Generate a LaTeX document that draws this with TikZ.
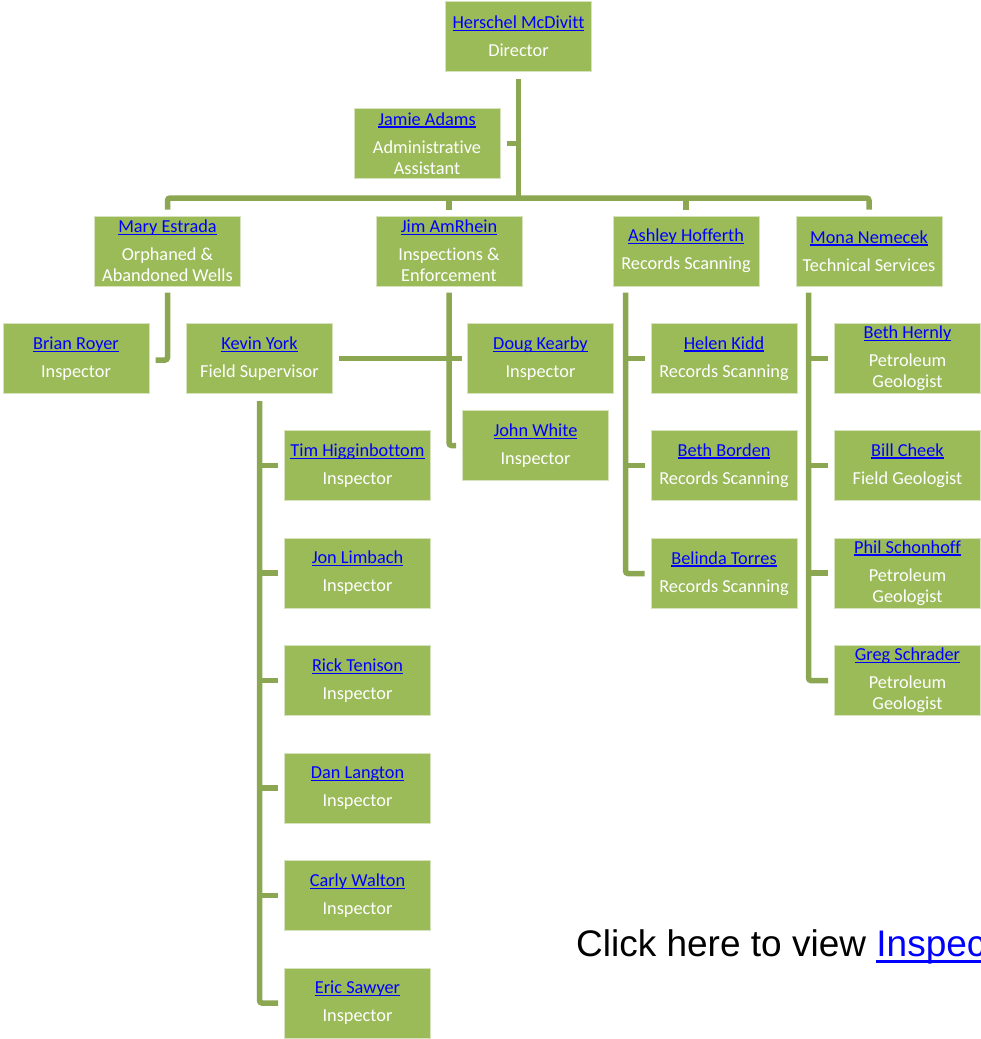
\documentclass[tikz,border=0pt]{standalone}
\usepackage{fontspec}
\setmainfont{Carlito}[Ligatures=NoCommon]
\newfontfamily\arialfont{Liberation Sans}
\definecolor{boxfill}{RGB}{155,187,89}
\definecolor{boxline}{RGB}{214,227,188}
\definecolor{conncol}{RGB}{140,167,82}
\definecolor{linkblue}{RGB}{0,0,255}
\newcommand\lnk[1]{{\color{linkblue}\setbox0=\hbox{#1}\rlap{\rule[-2.6pt]{\wd0}{1.4pt}}\box0}}
\newcommand\lnkbig[1]{{\color{linkblue}\setbox0=\hbox{#1}\rlap{\rule[-6.5pt]{\wd0}{2.6pt}}\box0}}
\begin{document}
\begin{tikzpicture}[x=1pt,y=-1pt,
  orgbox/.style={draw=boxline, line width=1pt, fill=boxfill, minimum width=146pt,
    minimum height=70pt, inner sep=0pt, align=center, text=white,
    font=\fontsize{18.3}{21}\selectfont},
  conn/.style={draw=conncol, line width=5.5pt, rounded corners=2.5pt}]
\useasboundingbox (0,0) rectangle (981,1039);
\clip (0,0) rectangle (981,1039);

% nodes
\node[orgbox] (dir) at (518.5,36.5) {\lnk{Herschel McDivitt}\\[7pt]Director};
\node[orgbox] (jamie) at (427,143.5) {\lnk{Jamie Adams}\\[7pt]Administrative\\Assistant};
\node[orgbox] (mary) at (167.5,251) {\lnk{Mary Estrada}\\[7pt]Orphaned \&\\Abandoned Wells};
\node[orgbox] (jim) at (449,251) {\lnk{Jim AmRhein}\\[7pt]Inspections \&\\Enforcement};
\node[orgbox] (ashley) at (686,251) {\lnk{Ashley Hofferth}\\[7pt]Records Scanning};
\node[orgbox] (mona) at (869,251) {\lnk{Mona Nemecek}\\[7pt]Technical Services};

\node[orgbox] (brian) at (76,358.5) {\lnk{Brian Royer}\\[7pt]Inspector};
\node[orgbox] (kevin) at (259.5,358.5) {\lnk{Kevin York}\\[7pt]Field Supervisor};
\node[orgbox] (doug) at (540.5,358.5) {\lnk{Doug Kearby}\\[7pt]Inspector};
\node[orgbox] (john) at (535.5,445.5) {\lnk{John White}\\[7pt]Inspector};

\node[orgbox] (helen) at (724,358.5) {\lnk{Helen Kidd}\\[7pt]Records Scanning};
\node[orgbox] (bethb) at (724,465.5) {\lnk{Beth Borden}\\[7pt]Records Scanning};
\node[orgbox] (belinda) at (724,573.5) {\lnk{Belinda Torres}\\[7pt]Records Scanning};

\node[orgbox] (bethh) at (907.5,358.5) {\lnk{Beth Hernly}\\[7pt]Petroleum\\Geologist};
\node[orgbox] (bill) at (907.5,465.5) {\lnk{Bill Cheek}\\[7pt]Field Geologist};
\node[orgbox] (phil) at (907.5,573) {\lnk{Phil Schonhoff}\\[7pt]Petroleum\\Geologist};
\node[orgbox] (greg) at (907.5,680.5) {\lnk{Greg Schrader}\\[7pt]Petroleum\\Geologist};

\node[orgbox] (tim) at (357.5,465.5) {\lnk{Tim Higginbottom}\\[7pt]Inspector};
\node[orgbox] (jon) at (357.5,573) {\lnk{Jon Limbach}\\[7pt]Inspector};
\node[orgbox] (rick) at (357.5,680.5) {\lnk{Rick Tenison}\\[7pt]Inspector};
\node[orgbox] (dan) at (357.5,788) {\lnk{Dan Langton}\\[7pt]Inspector};
\node[orgbox] (carly) at (357.5,895.5) {\lnk{Carly Walton}\\[7pt]Inspector};
\node[orgbox] (eric) at (357.5,1003) {\lnk{Eric Sawyer}\\[7pt]Inspector};

% connectors
\coordinate (bar) at (519,198);
\draw[conn] ([yshift=-7pt]dir.south) -- (dir.south |- bar);
\draw[conn] ([xshift=6pt]jamie.east) -- (jamie.east -| dir.south);
\draw[conn] ([yshift=6pt]mary.north) |- (bar) -| ([yshift=6pt]mona.north);
\draw[conn] ([yshift=6pt]jim.north) -- (jim.north |- bar);
\draw[conn] ([yshift=6pt]ashley.north) -- (ashley.north |- bar);

\draw[conn] ([yshift=-6pt]mary.south) |- ([xshift=6pt,yshift=-1.5pt]brian.east);
\draw[conn] ([yshift=-6pt]jim.south) |- ([xshift=-6pt]john.west);
\draw[conn] ([xshift=6pt]kevin.east) -- ([xshift=-5pt]doug.west);

\draw[conn] ([yshift=-7pt]kevin.south) |- ([xshift=-6pt]eric.west);
\foreach \t in {tim,jon,rick,dan,carly}
  \draw[conn] (kevin.south |- \t.west) -- ([xshift=-6pt]\t.west);

\coordinate (av) at ([xshift=13pt]ashley.south west);
\draw[conn] ([yshift=-6pt]av) |- ([xshift=-6pt]belinda.west);
\foreach \t in {helen,bethb}
  \draw[conn] (av |- \t.west) -- ([xshift=-6pt]\t.west);

\coordinate (mv) at ([xshift=13pt]mona.south west);
\draw[conn] ([yshift=-6pt]mv) |- ([xshift=-6pt]greg.west);
\foreach \t in {bethh,bill,phil}
  \draw[conn] (mv |- \t.west) -- ([xshift=-6pt]\t.west);

% footer text (cut off at the right edge, as in the reference)
\node[anchor=base west, inner sep=0pt, font=\arialfont\fontsize{37}{44}\selectfont] (click)
  at (576,956) {Click here to view \lnkbig{Inspections}};
\end{tikzpicture}
\end{document}
